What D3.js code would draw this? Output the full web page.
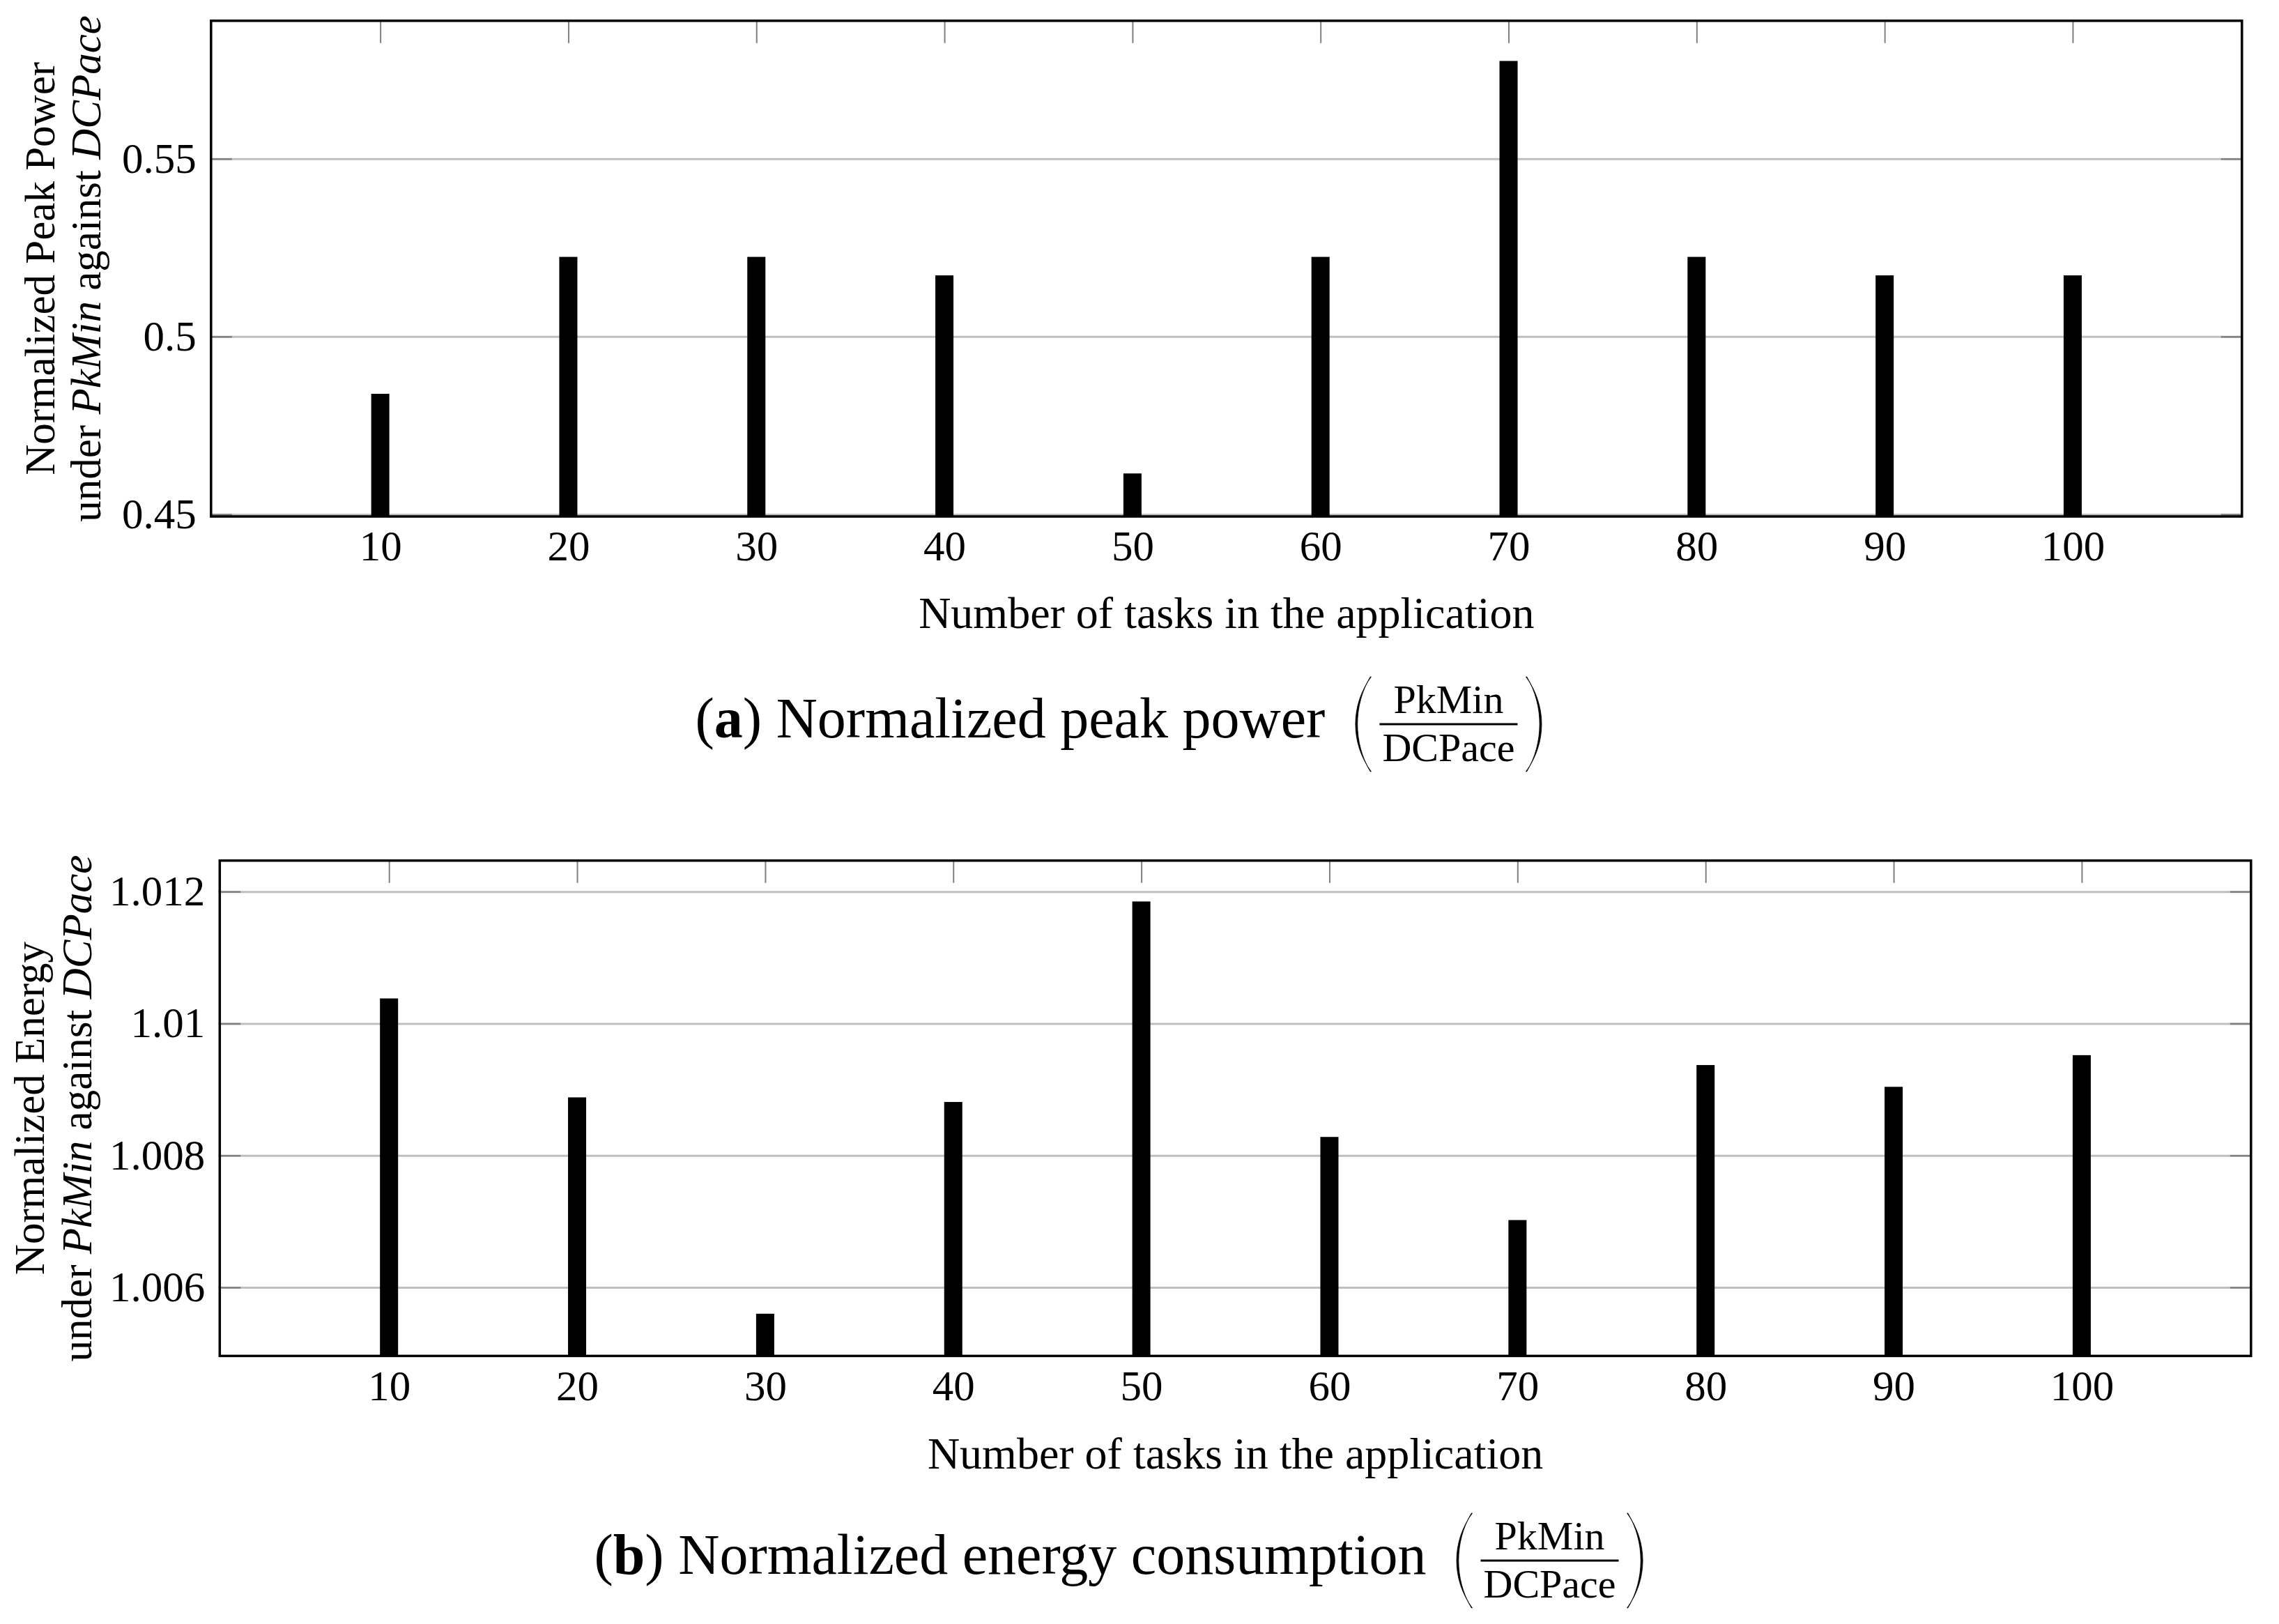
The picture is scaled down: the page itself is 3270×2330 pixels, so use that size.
<!DOCTYPE html>
<html>
<head>
<meta charset="utf-8">
<script src="https://cdn.jsdelivr.net/npm/d3@7"></script>
<style>
  html, body { margin: 0; padding: 0; background: #fff; }
  svg { display: block; }
  text { font-family: "Liberation Serif", "Times New Roman", serif; fill: #000; }
</style>
</head>
<body>
<svg id="chart" width="3270" height="2330"></svg>
<script>
// ---------------- data ----------------
const tasks = [10, 20, 30, 40, 50, 60, 70, 80, 90, 100];
const xTickLabels = ["10", "20", "30", "40", "50", "60", "70", "80", "90", "100"];

const peakPower = [0.4839, 0.5224, 0.5224, 0.5172, 0.4615, 0.5224, 0.5775, 0.5224, 0.5172, 0.5172];
const peakTicks = [0.45, 0.5, 0.55];
const peakTickLabels = ["0.45", "0.5", "0.55"];

const energy = [1.01038, 1.00888, 1.00560, 1.00881, 1.01185, 1.00828, 1.00702, 1.00937, 1.00904, 1.00952];
const energyTicks = [1.006, 1.008, 1.010, 1.012];
const energyTickLabels = ["1.006", "1.008", "1.01", "1.012"];

const xLabel = "Number of tasks in the application";
const peakYLabel = [["Normalized Peak Power"], ["under ", ["PkMin"], " against ", ["DCPace"]]];
const energyYLabel = [["Normalized Energy"], ["under ", ["PkMin"], " against ", ["DCPace"]]];
const captionA = { tag: "a", text: " Normalized peak power", num: "PkMin", den: "DCPace" };
const captionB = { tag: "b", text: " Normalized energy consumption", num: "PkMin", den: "DCPace" };

// ---------------- drawing ----------------
const svg = d3.select("#chart");
const GRID = "#bfbfbf", TICK = "#808080";

function drawPanel(cfg) {
  const x = d3.scaleLinear().domain([1, 109]).range([cfg.left, cfg.right]);
  const y = d3.scaleLinear().domain(cfg.yDomain).range([cfg.bottom, cfg.top]);
  const w = cfg.right - cfg.left;
  const g = svg.append("g");

  // gridlines
  const grid = g.append("g").attr("transform", `translate(${cfg.left},0)`)
    .call(d3.axisLeft(y).tickValues(cfg.yTicks).tickSize(-w).tickFormat(""));
  grid.select(".domain").remove();
  grid.selectAll("line").attr("stroke", GRID).attr("stroke-width", 3);

  // bottom ticks (hidden under bars)
  const bt = g.append("g").attr("transform", `translate(0,${cfg.bottom})`)
    .call(d3.axisBottom(x).tickValues(tasks).tickSize(-32).tickFormat(""));
  bt.select(".domain").remove();
  bt.selectAll("line").attr("stroke", TICK).attr("stroke-width", 2);

  // bars
  g.append("g").selectAll("rect").data(cfg.values).join("rect")
    .attr("x", (d, i) => x(tasks[i]) - 13)
    .attr("width", 26)
    .attr("y", d => y(d))
    .attr("height", d => y(cfg.yDomain[0]) - y(d))
    .attr("fill", "#000");

  // inner tick marks: left, right, top
  const lt = g.append("g").attr("transform", `translate(${cfg.left},0)`)
    .call(d3.axisLeft(y).tickValues(cfg.yTicks).tickSize(-30).tickFormat(""));
  lt.select(".domain").remove();
  lt.selectAll("line").attr("stroke", TICK).attr("stroke-width", 2.5);
  const rt = g.append("g").attr("transform", `translate(${cfg.right},0)`)
    .call(d3.axisRight(y).tickValues(cfg.yTicks).tickSize(-30).tickFormat(""));
  rt.select(".domain").remove();
  rt.selectAll("line").attr("stroke", TICK).attr("stroke-width", 2.5);
  const tt = g.append("g").attr("transform", `translate(0,${cfg.top})`)
    .call(d3.axisTop(x).tickValues(tasks).tickSize(-32).tickFormat(""));
  tt.select(".domain").remove();
  tt.selectAll("line").attr("stroke", TICK).attr("stroke-width", 2);

  // tick labels
  const yl = g.append("g").attr("transform", `translate(${cfg.left},0)`)
    .call(d3.axisLeft(y).tickValues(cfg.yTicks).tickSize(0).tickPadding(21)
      .tickFormat((d, i) => cfg.yTickLabels[i]));
  yl.select(".domain").remove();
  yl.selectAll("text").style("font-size", "61px").attr("font-family", null);

  const xl = g.append("g").attr("transform", `translate(0,${cfg.bottom})`)
    .call(d3.axisBottom(x).tickValues(tasks).tickSize(0).tickPadding(20)
      .tickFormat((d, i) => xTickLabels[i]));
  xl.select(".domain").remove();
  xl.selectAll("text").style("font-size", "61px").attr("font-family", null);

  // frame
  g.append("rect").attr("x", cfg.left).attr("y", cfg.top)
    .attr("width", w).attr("height", cfg.bottom - cfg.top)
    .attr("fill", "none").attr("stroke", "#000").attr("stroke-width", 3.5);

  // y label (two lines, rotated)
  const cy = (cfg.top + cfg.bottom) / 2;
  cfg.yLabel.forEach((parts, li) => {
    const t = g.append("text")
      .attr("transform", `translate(${cfg.yLabelX[li]},${cy}) rotate(-90)`)
      .attr("text-anchor", "middle").style("font-size", "61px");
    parts.forEach(p => {
      if (Array.isArray(p)) t.append("tspan").style("font-style", "italic").text(p[0]);
      else t.append("tspan").text(p);
    });
  });

  // x label
  g.append("text").attr("x", (cfg.left + cfg.right) / 2).attr("y", cfg.xLabelY)
    .attr("text-anchor", "middle").style("font-size", "64px").text(xLabel);

  drawCaption(cfg.caption, cfg.captionY);
}

function paren(g, x0, pw, top, bot, left) {
  const H = bot - top, th = 4.2;
  let d;
  if (left) {
    d = `M${x0 + pw},${top} C${x0 - 1},${top + 0.3 * H} ${x0 - 1},${bot - 0.3 * H} ${x0 + pw},${bot}
         L${x0 + pw - 1.2},${bot} C${x0 - 1 + th},${bot - 0.3 * H} ${x0 - 1 + th},${top + 0.3 * H} ${x0 + pw - 1.2},${top} Z`;
  } else {
    d = `M${x0},${top} C${x0 + pw + 1},${top + 0.3 * H} ${x0 + pw + 1},${bot - 0.3 * H} ${x0},${bot}
         L${x0 + 1.2},${bot} C${x0 + pw + 1 - th},${bot - 0.3 * H} ${x0 + pw + 1 - th},${top + 0.3 * H} ${x0 + 1.2},${top} Z`;
  }
  g.append("path").attr("d", d).attr("fill", "#000").attr("stroke", "#000").attr("stroke-width", 0.8);
}

function drawCaption(c, baseY) {
  const g = svg.append("g");
  const t = g.append("text").attr("y", baseY).style("font-size", "82px");
  t.append("tspan").text("(");
  t.append("tspan").style("font-weight", "bold").text(c.tag);
  t.append("tspan").text(")" + c.text);
  const w1 = t.node().getComputedTextLength();
  const num = g.append("text").attr("text-anchor", "middle").style("font-size", "58px").text(c.num);
  const den = g.append("text").attr("text-anchor", "middle").style("font-size", "58px").text(c.den);
  const fracW = Math.max(num.node().getComputedTextLength(), den.node().getComputedTextLength()) + 8;
  const gap1 = 37, pw = 29, gap2 = 12, gap3 = 12;
  const total = w1 + gap1 + pw + gap2 + fracW + gap3 + pw;
  const x0 = 1608 - total / 2;
  t.attr("x", x0);
  const barY = baseY - 19;
  const pl = x0 + w1 + gap1;
  const fx = pl + pw + gap2;
  const pr = fx + fracW + gap3;
  paren(g, pl, pw, barY - 68, barY + 68, true);
  paren(g, pr, pw, barY - 68, barY + 68, false);
  g.append("line").attr("x1", fx).attr("x2", fx + fracW).attr("y1", barY).attr("y2", barY)
    .attr("stroke", "#000").attr("stroke-width", 3);
  num.attr("x", fx + fracW / 2).attr("y", barY - 16);
  den.attr("x", fx + fracW / 2).attr("y", barY + 53);
}

drawPanel({
  left: 302.8, right: 3216.8, top: 29.8, bottom: 741,
  yDomain: [0.4494, 0.5888],
  values: peakPower, yTicks: peakTicks, yTickLabels: peakTickLabels,
  yLabel: peakYLabel, yLabelX: [77.5, 143.5],
  xLabelY: 901, caption: captionA, captionY: 1058
});

drawPanel({
  left: 315.3, right: 3229.8, top: 1234.7, bottom: 1945.4,
  yDomain: [1.00496, 1.01247],
  values: energy, yTicks: energyTicks, yTickLabels: energyTickLabels,
  yLabel: energyYLabel, yLabelX: [63, 131],
  xLabelY: 2106.5, caption: captionB, captionY: 2258
});
</script>
</body>
</html>
